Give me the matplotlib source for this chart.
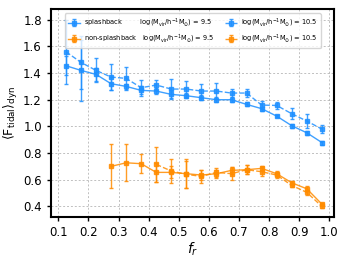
import matplotlib
matplotlib.use("Agg")
import matplotlib.pyplot as plt

plt.rcParams["mathtext.fontset"] = "dejavusans"

fr = [0.125, 0.175, 0.225, 0.275, 0.325, 0.375, 0.425, 0.475, 0.525,
      0.575, 0.625, 0.675, 0.725, 0.775, 0.825, 0.875, 0.925, 0.975]

# splashback
sb_95 = [1.455, 1.42, 1.39, 1.32, 1.30, 1.27, 1.265, 1.24, 1.23,
         1.215, 1.20, 1.20, 1.165, 1.133, 1.077, 1.005, 0.952, 0.879]
sb_95_err = [0.07, 0.23, 0.05, 0.05, 0.02, 0.03, 0.02, 0.03, 0.02,
             0.02, 0.02, 0.02, 0.015, 0.015, 0.01, 0.015, 0.015, 0.015]
sb_105 = [1.56, 1.48, 1.42, 1.37, 1.36, 1.29, 1.31, 1.28, 1.28,
          1.265, 1.265, 1.25, 1.25, 1.16, 1.157, 1.095, 1.04, 0.98]
sb_105_err = [0.24, 0.2, 0.09, 0.1, 0.085, 0.06, 0.04, 0.075, 0.06,
              0.05, 0.06, 0.03, 0.03, 0.03, 0.025, 0.04, 0.05, 0.03]

# non-splashback (starts at fr=0.275)
fr_ns = fr[3:]
ns_95 = [0.70, 0.727, 0.72, 0.655, 0.655, 0.645, 0.635, 0.645, 0.67,
         0.675, 0.685, 0.645, 0.577, 0.532, 0.417]
ns_95_err = [0.165, 0.14, 0.07, 0.07, 0.045, 0.11, 0.04, 0.03, 0.025,
             0.035, 0.02, 0.02, 0.015, 0.02, 0.01]
fr_ns105 = fr[6:]
ns_105 = [0.715, 0.665, 0.64, 0.625, 0.655, 0.645, 0.675, 0.66, 0.635,
          0.557, 0.505, 0.40]
ns_105_err = [0.13, 0.09, 0.1, 0.05, 0.035, 0.05, 0.035, 0.035, 0.02,
              0.015, 0.02, 0.01]

blue = "dodgerblue"
orange = "darkorange"
mlab = r"log(M$_{\rm vir}$/h$^{-1}$M$_{\odot}$) = "

fig = plt.figure(figsize=(3.46, 2.59), dpi=100)
ax = fig.add_axes([0.147, 0.162, 0.818, 0.803])

kw = dict(marker="s", ms=2.2, capsize=1.6, elinewidth=1.0, lw=1.0, alpha=0.85)
ax.errorbar(fr, sb_95, yerr=sb_95_err, color=blue, ls="-",
            label="splashback         " + mlab + "9.5", **kw)
ax.errorbar(fr_ns, ns_95, yerr=ns_95_err, color=orange, ls="-",
            label="non-splashback   " + mlab + "9.5", **kw)
ax.errorbar(fr, sb_105, yerr=sb_105_err, color=blue, ls="--",
            label=mlab + "10.5", **kw)
ax.errorbar(fr_ns105, ns_105, yerr=ns_105_err, color=orange, ls="--",
            label=mlab + "10.5", **kw)

ax.set_xlim(0.075, 1.015)
ax.set_ylim(0.32, 1.88)
ax.set_xticks([0.1, 0.2, 0.3, 0.4, 0.5, 0.6, 0.7, 0.8, 0.9, 1.0])
ax.set_yticks([0.4, 0.6, 0.8, 1.0, 1.2, 1.4, 1.6, 1.8])
ax.tick_params(labelsize=8.5, width=1.0, length=3)
ax.grid(ls=(0, (2, 2)), color="gray", alpha=0.5, lw=0.7)
for s in ax.spines.values():
    s.set_linewidth(1.5)

ax.set_xlabel(r"$f_r$", fontsize=10, labelpad=1)
ax.set_ylabel(r"$\langle \mathrm{F_{tidal}} \rangle_{\mathrm{dyn}}$", fontsize=9, labelpad=2)

ax.legend(ncol=2, fontsize=4.8, loc="upper right", bbox_to_anchor=(0.965, 0.995),
          handlelength=1.8, columnspacing=1.5, borderpad=0.5, labelspacing=0.55,
          handletextpad=0.6, framealpha=0.8)

fig.savefig("out.png", dpi=100)
